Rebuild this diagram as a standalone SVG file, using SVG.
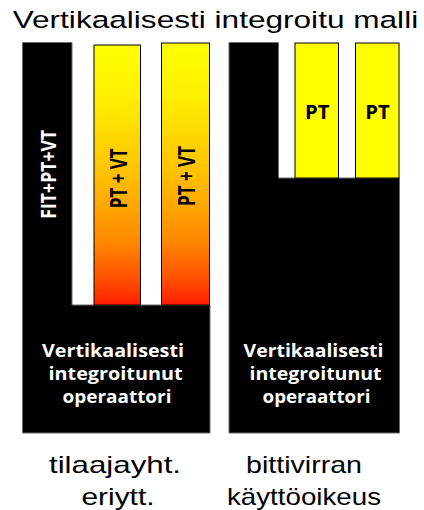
<svg xmlns="http://www.w3.org/2000/svg" width="424" height="510" viewBox="0 0 424 510">
  <defs>
    <linearGradient id="heat" x1="0" y1="0" x2="0" y2="1">
      <stop offset="0" stop-color="#ffff00"/>
      <stop offset="0.2" stop-color="#fff000"/>
      <stop offset="0.5" stop-color="#ffc000"/>
      <stop offset="0.75" stop-color="#ff8a00"/>
      <stop offset="0.9" stop-color="#ff5000"/>
      <stop offset="1" stop-color="#ff1e00"/>
    </linearGradient>
  </defs>
  <style>
    .block { fill: #000; stroke: #6b6b6b; stroke-width: 1; }
    .bar { stroke: #000; stroke-width: 1; }
    .plain { font-family: "Liberation Sans", Arial, sans-serif; fill: #000; }
    .bold { font-family: "Open Sans", "Noto Sans", sans-serif; font-weight: bold; }
    .white { fill: #fff; }
    .dark { fill: #000; }
  </style>

  <rect width="424" height="510" fill="#fff"/>

  <text class="plain" x="12.7" y="27.5" font-size="24.5" textLength="405.5" lengthAdjust="spacingAndGlyphs">Vertikaalisesti integroitu malli</text>

  <!-- left model: operator with customer-separated channels -->
  <g id="operator-left">
    <path class="block" d="M22.5,42.5 H72 V305 H210 V433 H22.5 Z"/>
    <text class="bold white" transform="translate(55.5,174.2) rotate(-90)" text-anchor="middle" font-size="21" textLength="89" lengthAdjust="spacingAndGlyphs">FIT+PT+VT</text>
    <text class="bold white" x="42" y="356.5" font-size="18.5" textLength="142" lengthAdjust="spacingAndGlyphs">Vertikaalisesti</text>
    <text class="bold white" x="48.5" y="379.5" font-size="18.5" textLength="134" lengthAdjust="spacingAndGlyphs">integroitunut</text>
    <text class="bold white" x="62.5" y="402.5" font-size="18.5" textLength="109" lengthAdjust="spacingAndGlyphs">operaattori</text>
  </g>
  <g id="channel-left-1">
    <rect class="bar" x="94" y="45" width="46.5" height="260" fill="url(#heat)"/>
    <text class="bold dark" transform="translate(126.5,178.3) rotate(-90)" text-anchor="middle" font-size="23.5" textLength="60" lengthAdjust="spacingAndGlyphs">PT + VT</text>
  </g>
  <g id="channel-left-2">
    <rect class="bar" x="161.5" y="43" width="48" height="262" fill="url(#heat)"/>
    <text class="bold dark" transform="translate(194.5,176) rotate(-90)" text-anchor="middle" font-size="23.5" textLength="60" lengthAdjust="spacingAndGlyphs">PT + VT</text>
  </g>

  <!-- right model: operator selling bitstream access -->
  <g id="operator-right">
    <path class="block" d="M229,42.5 H278.5 V178 H399.5 V433 H229 Z"/>
    <text class="bold white" x="243.5" y="356.5" font-size="18.5" textLength="140" lengthAdjust="spacingAndGlyphs">Vertikaalisesti</text>
    <text class="bold white" x="249.5" y="379.5" font-size="18.5" textLength="132" lengthAdjust="spacingAndGlyphs">integroitunut</text>
    <text class="bold white" x="262.5" y="402.5" font-size="18.5" textLength="108" lengthAdjust="spacingAndGlyphs">operaattori</text>
  </g>
  <g id="channel-right-1">
    <rect class="bar" x="295" y="43" width="43.5" height="135" fill="#ffff00"/>
    <text class="bold dark" x="317.2" y="118.5" text-anchor="middle" font-size="19.5" textLength="24.5" lengthAdjust="spacingAndGlyphs">PT</text>
  </g>
  <g id="channel-right-2">
    <rect class="bar" x="355.5" y="43" width="43.5" height="135" fill="#ffff00"/>
    <text class="bold dark" x="377.5" y="118.5" text-anchor="middle" font-size="19.5" textLength="24.5" lengthAdjust="spacingAndGlyphs">PT</text>
  </g>

  <g id="captions">
    <text class="plain" x="49" y="473" font-size="24" textLength="132" lengthAdjust="spacingAndGlyphs">tilaajayht.</text>
    <text class="plain" x="118" y="504.5" font-size="24" text-anchor="middle" textLength="73" lengthAdjust="spacingAndGlyphs">eriytt.</text>
    <text class="plain" x="304" y="473" font-size="24" text-anchor="middle" textLength="116" lengthAdjust="spacingAndGlyphs">bittivirran</text>
    <text class="plain" x="304" y="504.5" font-size="24" text-anchor="middle" textLength="154" lengthAdjust="spacingAndGlyphs">käyttöoikeus</text>
  </g>
</svg>
